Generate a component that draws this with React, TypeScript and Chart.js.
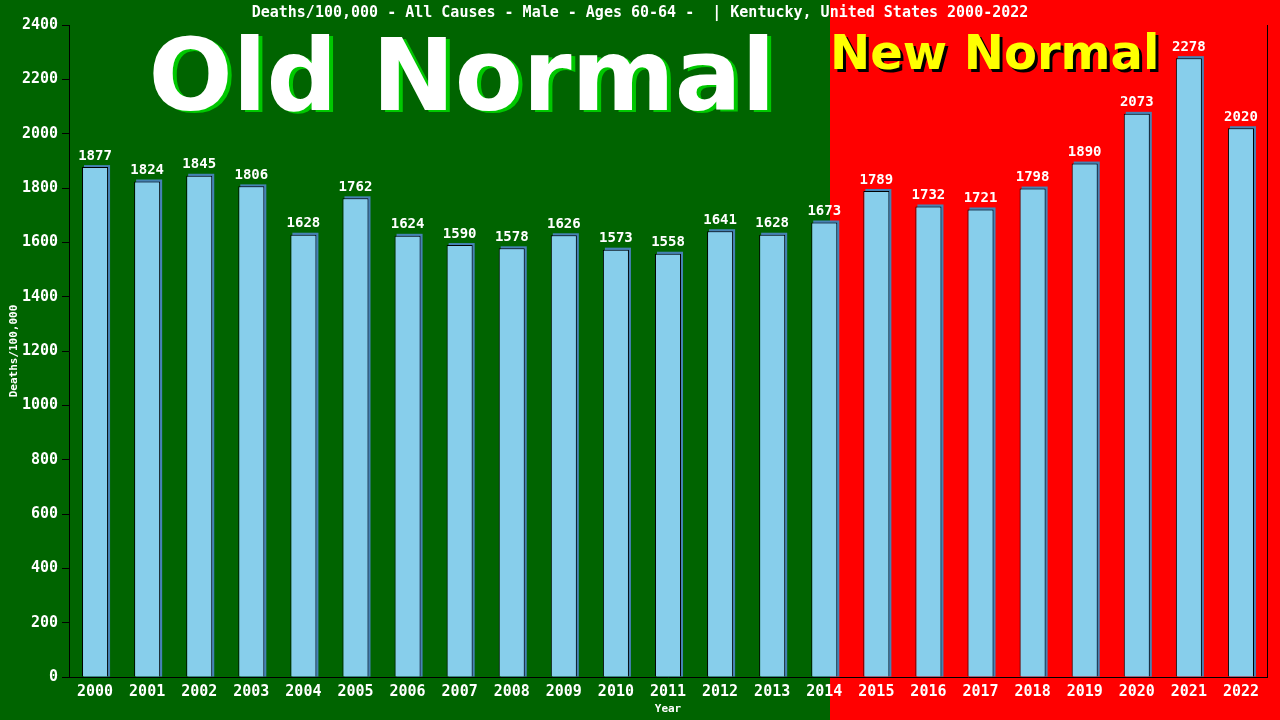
import React, { useEffect, useRef } from 'react'
import { Chart, registerables, type ChartConfiguration, type Plugin } from 'chart.js'

Chart.register(...registerables)

const years = [
  '2000', '2001', '2002', '2003', '2004', '2005', '2006', '2007', '2008', '2009', '2010', '2011',
  '2012', '2013', '2014', '2015', '2016', '2017', '2018', '2019', '2020', '2021', '2022',
]
const deaths = [
  1877, 1824, 1845, 1806, 1628, 1762, 1624, 1590, 1578, 1626, 1573, 1558,
  1641, 1628, 1673, 1789, 1732, 1721, 1798, 1890, 2073, 2278, 2020,
]
const yTicks = [0, 200, 400, 600, 800, 1000, 1200, 1400, 1600, 1800, 2000, 2200, 2400]

const TITLE = 'Deaths/100,000 - All Causes - Male - Ages 60-64 -  | Kentucky, United States 2000-2022'
const MONO = '"DejaVu Sans Mono", monospace'

// green "old" / red "new" backdrop, the two big labels and the page title
const backdrop: Plugin = {
  id: 'backdrop',
  beforeDraw(chart) {
    const { ctx, width, height } = chart
    const split = Math.round(width * 830 / 1280)
    ctx.save()
    ctx.fillStyle = '#006400'
    ctx.fillRect(0, 0, split, height)
    ctx.fillStyle = '#ff0000'
    ctx.fillRect(split, 0, width - split, height)

    ctx.font = 'bold 99px "DejaVu Sans"'
    ctx.textAlign = 'center'
    ctx.textBaseline = 'alphabetic'
    ctx.fillStyle = '#00c800'
    ctx.fillText('Old Normal', 466, 112)
    ctx.fillStyle = '#ffffff'
    ctx.fillText('Old Normal', 462, 110)

    ctx.font = 'bold 48px "DejaVu Sans"'
    ctx.textAlign = 'left'
    ctx.fillStyle = '#000000'
    ctx.fillText('New Normal', split + 3, 72)
    ctx.fillStyle = '#ffff00'
    ctx.fillText('New Normal', split, 69)

    ctx.font = `bold 15px ${MONO}`
    ctx.textAlign = 'center'
    ctx.textBaseline = 'middle'
    ctx.fillStyle = '#ffffff'
    ctx.fillText(TITLE, 640, 13)
    ctx.restore()
  },
}

// steel-blue offset behind each bar, right frame line, value labels
const barDecor: Plugin = {
  id: 'barDecor',
  beforeDatasetsDraw(chart) {
    const { ctx } = chart
    const meta = chart.getDatasetMeta(0)
    ctx.save()
    ctx.fillStyle = '#4682b4'
    meta.data.forEach((el: any) => {
      const w = el.width
      ctx.fillRect(el.x - w / 2 + 2, el.y - 2, w, el.base - el.y + 2)
    })
    ctx.restore()
  },
  afterDatasetsDraw(chart) {
    const { ctx, chartArea } = chart
    const meta = chart.getDatasetMeta(0)
    ctx.save()
    ctx.strokeStyle = '#000000'
    ctx.lineWidth = 1
    ctx.beginPath()
    ctx.moveTo(chartArea.right + 0.5, chartArea.top)
    ctx.lineTo(chartArea.right + 0.5, chartArea.bottom)
    ctx.stroke()

    ctx.font = `bold 14px ${MONO}`
    ctx.textAlign = 'center'
    ctx.textBaseline = 'bottom'
    ctx.fillStyle = '#ffffff'
    meta.data.forEach((el: any, i: number) => {
      ctx.fillText(String(deaths[i]), el.x, el.y - 4)
    })
    ctx.restore()
  },
}

export default function App() {
  const canvasRef = useRef<HTMLCanvasElement>(null)
  const chartRef = useRef<Chart | null>(null)

  useEffect(() => {
    if (!canvasRef.current) return
    chartRef.current?.destroy()

    const cfg: ChartConfiguration = {
      type: 'bar',
      data: {
        labels: years,
        datasets: [
          {
            label: 'Deaths/100,000',
            data: deaths,
            backgroundColor: '#87ceeb',
            borderColor: '#000000',
            borderWidth: 1,
            borderSkipped: 'bottom',
            barPercentage: 0.5,
            categoryPercentage: 1,
          },
        ],
      },
      options: {
        responsive: false,
        animation: false,
        layout: { padding: { top: 25, right: 13, left: 0, bottom: 0 } },
        plugins: {
          legend: { display: false },
          tooltip: { enabled: false },
          title: { display: false },
        },
        scales: {
          x: {
            grid: { display: false, drawTicks: false },
            border: { display: true, color: '#000000', width: 1 },
            ticks: {
              color: '#ffffff',
              font: { family: MONO, size: 15, weight: 'bold' },
              padding: 6,
              maxRotation: 0,
              autoSkip: false,
            },
            title: {
              display: true,
              text: 'Year',
              color: '#ffffff',
              font: { family: MONO, size: 11, weight: 'bold' },
              padding: { top: 2, bottom: 4 },
            },
            afterFit: (s: any) => { s.height = 43 },
          },
          y: {
            min: 0,
            max: 2400,
            afterBuildTicks: (s: any) => { s.ticks = yTicks.map(v => ({ value: v })) },
            grid: { drawOnChartArea: false, color: '#000000', tickColor: '#000000', tickLength: 7 },
            border: { display: true, color: '#000000', width: 1 },
            ticks: {
              color: '#ffffff',
              font: { family: MONO, size: 15, weight: 'bold' },
              padding: 4,
              callback: (v: any) => String(v),
            },
            title: {
              display: true,
              text: 'Deaths/100,000',
              color: '#ffffff',
              font: { family: MONO, size: 11, weight: 'bold' },
              padding: { top: 8, bottom: 0 },
            },
            afterFit: (s: any) => { s.width = 69 },
          },
        },
      },
      plugins: [backdrop, barDecor],
    }
    chartRef.current = new Chart(canvasRef.current, cfg)
    return () => { chartRef.current?.destroy() }
  }, [])

  return (
    <div style={{ position: 'fixed', left: 0, top: 0, width: 1280, height: 720 }}>
      <canvas ref={canvasRef} width={1280} height={720} style={{ width: 1280, height: 720 }} />
    </div>
  )
}
